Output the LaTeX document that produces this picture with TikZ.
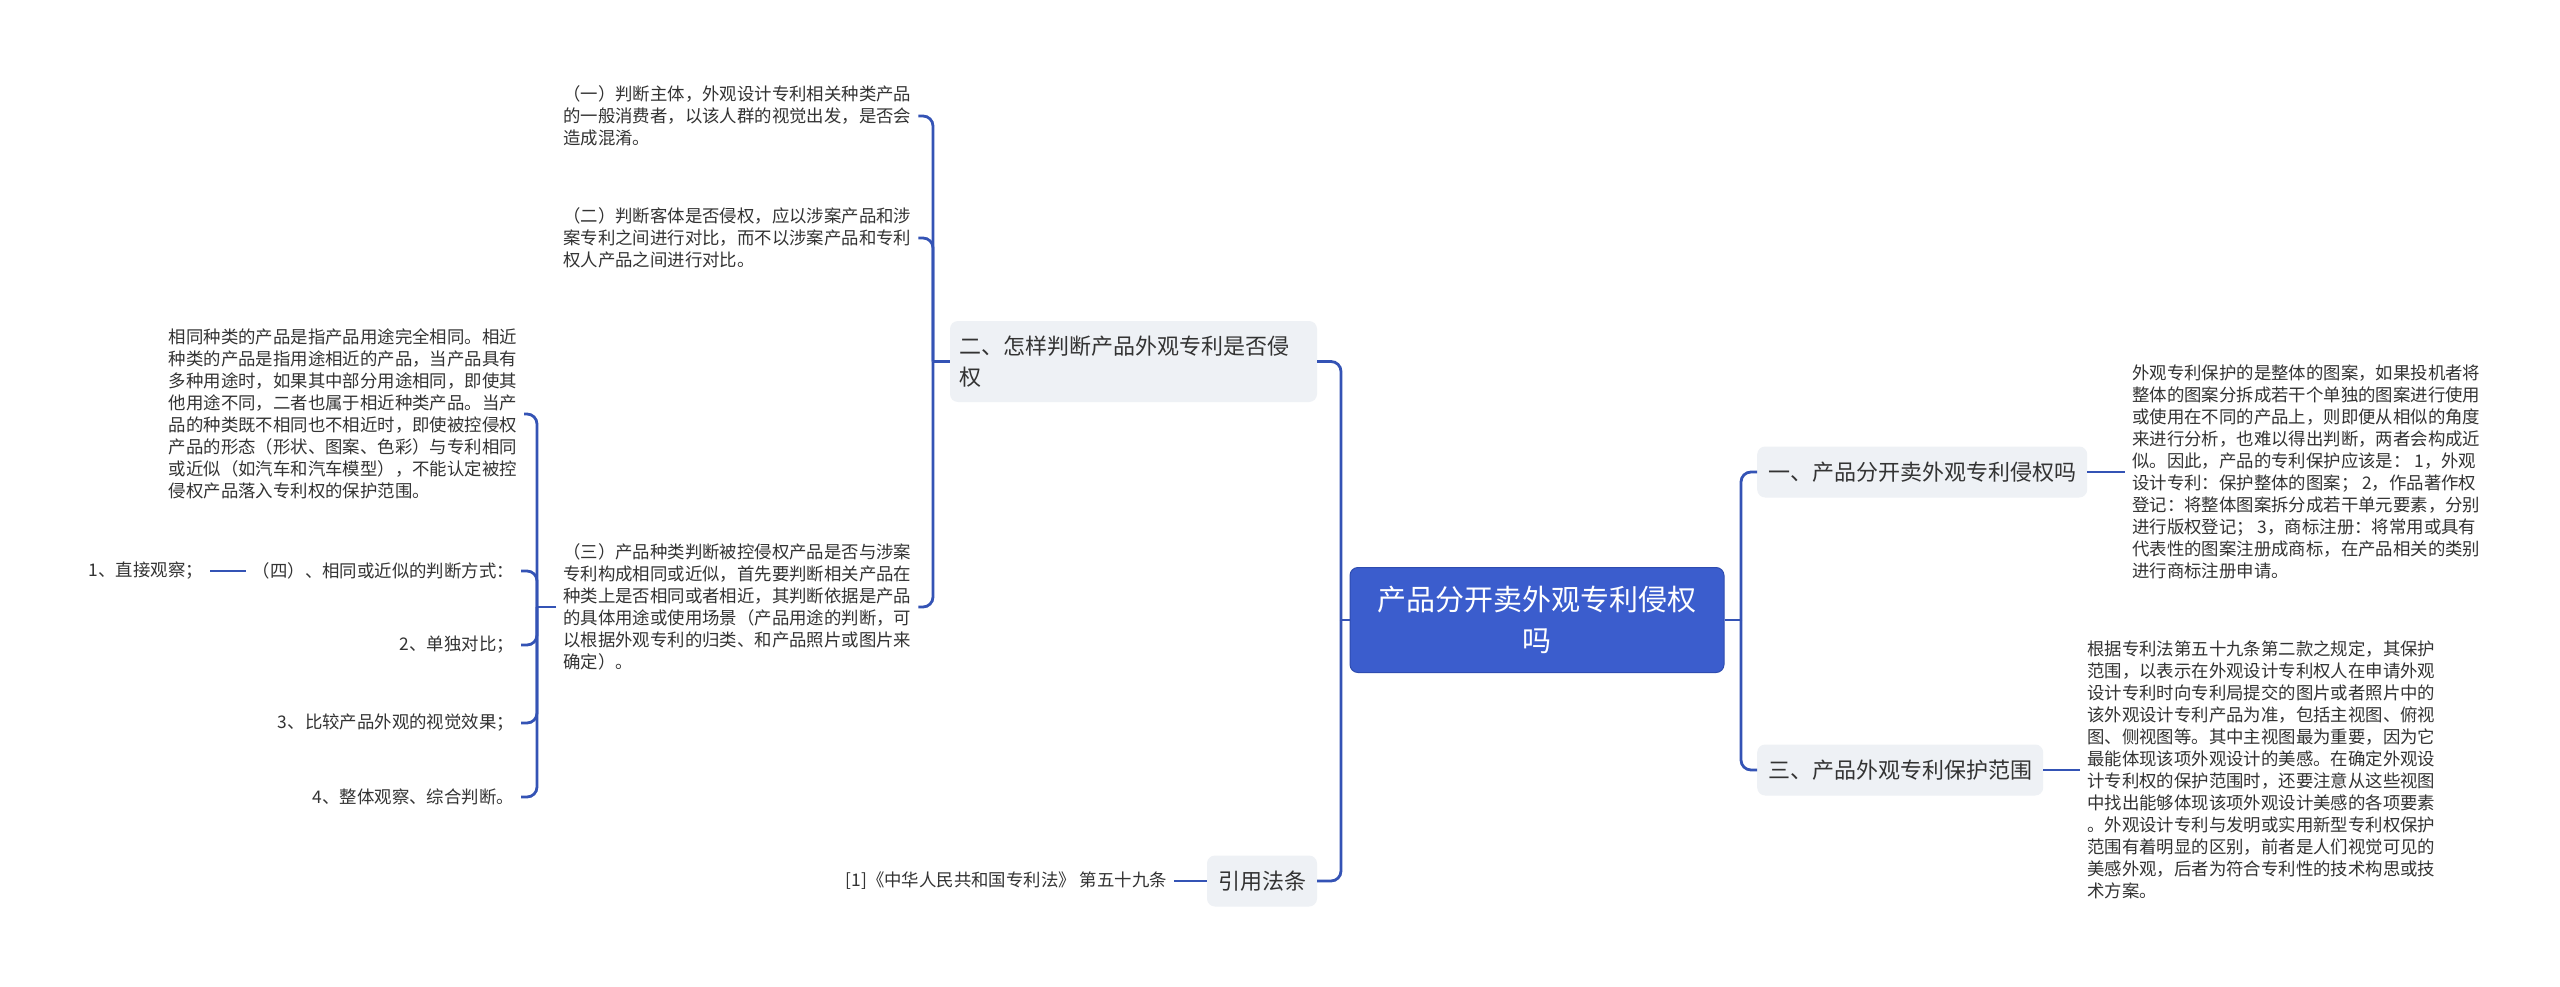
\documentclass[tikz,border=0pt]{standalone}
\usepackage{fontspec}
\newfontfamily\cjk{Noto Sans CJK SC}
\usetikzlibrary{calc}
\definecolor{lineblue}{HTML}{3453B5}
\definecolor{mainblue}{HTML}{3B5DCD}
\definecolor{mainborder}{HTML}{2E4CB0}
\definecolor{nodegray}{HTML}{EEF1F5}
\definecolor{txtgray}{HTML}{333333}
\begin{document}
\begin{tikzpicture}[x=1pt,y=-1pt,
  conn/.style={draw=lineblue,line width=2.8pt},
  brk/.style={conn,rounded corners=10pt},
  txt/.style={font=\cjk\fontsize{17.4}{22}\selectfont,text=txtgray,align=left,inner xsep=7pt,inner ysep=0pt},
  txtr/.style={txt,align=right},
  topic/.style={fill=nodegray,rounded corners=8pt,font=\cjk\fontsize{22}{31}\selectfont,text=txtgray,inner xsep=11pt,inner ysep=0pt,minimum height=51pt,align=left},
  root/.style={fill=mainblue,draw=mainborder,line width=1pt,rounded corners=8pt,font=\cjk\fontsize{29}{41}\selectfont,text=white,align=center,minimum width=374pt,minimum height=105pt}
]
\fill[white] (0,0) rectangle (2560,987);
\useasboundingbox (0,0) rectangle (2560,987);

% main nodes
\node[root] (C) at (1537,620) {产品分开卖外观专利侵权\\吗};
\node[topic,text width=349pt,inner xsep=9pt,minimum height=81pt] (N2) at (1133.5,361.5) {二、怎样判断产品外观专利是否侵\\权};
\node[topic] (L) at (1262,881) {引用法条};
\node[topic,anchor=west] (N1) at (1757,472) {一、产品分开卖外观专利侵权吗};
\node[topic,anchor=west] (N3) at (1757,770) {三、产品外观专利保护范围};

% right texts
\node[txt,anchor=west] (R1) at (2125,472) {外观专利保护的是整体的图案，如果投机者将\\整体的图案分拆成若干个单独的图案进行使用\\或使用在不同的产品上，则即便从相似的角度\\来进行分析，也难以得出判断，两者会构成近\\似。因此，产品的专利保护应该是： 1，外观\\设计专利：保护整体的图案； 2，作品著作权\\登记：将整体图案拆分成若干单元要素，分别\\进行版权登记； 3，商标注册：将常用或具有\\代表性的图案注册成商标，在产品相关的类别\\进行商标注册申请。};
\node[txt,anchor=west] (R2) at (2080,770) {根据专利法第五十九条第二款之规定，其保护\\范围，以表示在外观设计专利权人在申请外观\\设计专利时向专利局提交的图片或者照片中的\\该外观设计专利产品为准，包括主视图、俯视\\图、侧视图等。其中主视图最为重要，因为它\\最能体现该项外观设计的美感。在确定外观设\\计专利权的保护范围时，还要注意从这些视图\\中找出能够体现该项外观设计美感的各项要素\\。外观设计专利与发明或实用新型专利权保护\\范围有着明显的区别，前者是人们视觉可见的\\美感外观，后者为符合专利性的技术构思或技\\术方案。};

% left texts
\node[txt,anchor=west] (T1) at (556,116) {（一）判断主体，外观设计专利相关种类产品\\的一般消费者，以该人群的视觉出发，是否会\\造成混淆。};
\node[txt,anchor=west] (T2) at (556,238) {（二）判断客体是否侵权，应以涉案产品和涉\\案专利之间进行对比，而不以涉案产品和专利\\权人产品之间进行对比。};
\node[txt,anchor=west] (T3) at (556,607) {（三）产品种类判断被控侵权产品是否与涉案\\专利构成相同或近似，首先要判断相关产品在\\种类上是否相同或者相近，其判断依据是产品\\的具体用途或使用场景（产品用途的判断，可\\以根据外观专利的归类、和产品照片或图片来\\确定）。};
\node[txt,anchor=east] (T4) at (524,414) {相同种类的产品是指产品用途完全相同。相近\\种类的产品是指用途相近的产品，当产品具有\\多种用途时，如果其中部分用途相同，即使其\\他用途不同，二者也属于相近种类产品。当产\\品的种类既不相同也不相近时，即使被控侵权\\产品的形态（形状、图案、色彩）与专利相同\\或近似（如汽车和汽车模型），不能认定被控\\侵权产品落入专利权的保护范围。};
\node[txtr,anchor=east] (T5) at (521,571) {（四）、相同或近似的判断方式：};
\node[txtr,anchor=east] (T6) at (210,571) {1、直接观察；};
\node[txtr,anchor=east] (T7) at (521,645) {2、单独对比；};
\node[txtr,anchor=east] (T8) at (521,723) {3、比较产品外观的视觉效果；};
\node[txtr,anchor=east] (T9) at (521,797) {4、整体观察、综合判断。};
\node[txtr,anchor=east] (LT) at (1174,881) {[1]《中华人民共和国专利法》 第五十九条};

% junctions
\coordinate (JL) at (1341,620);
\coordinate (JR) at (1741,620);
\coordinate (J2) at (933,361.5);
\coordinate (J3) at (537,607);

% connectors
\draw[conn] (C.west) -- (JL);
\draw[brk] (JL) |- (N2.east);
\draw[brk] (JL) |- (L.east);
\draw[conn] (C.east) -- (JR);
\draw[brk] (JR) |- (N1.west);
\draw[brk] (JR) |- (N3.west);
\draw[conn] (N1.east) -- (R1.west);
\draw[conn] (N3.east) -- (R2.west);
\draw[conn] (N2.west) -- (J2);
\draw[brk] (J2) |- (T1.east);
\draw[brk] (J2) |- (T2.east);
\draw[brk] (J2) |- (T3.east);
\draw[conn] (T3.west) -- (J3);
\draw[brk] (J3) |- (T4.east);
\draw[brk] (J3) |- (T5.east);
\draw[brk] (J3) |- (T7.east);
\draw[brk] (J3) |- (T8.east);
\draw[brk] (J3) |- (T9.east);
\draw[conn] (T6.east) -- (T5.west);
\draw[conn] (LT.east) -- (L.west);
\end{tikzpicture}
\end{document}
